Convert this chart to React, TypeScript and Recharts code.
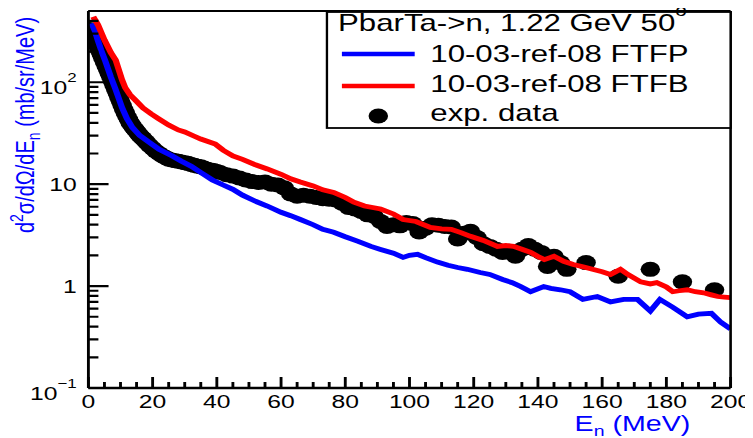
import React from 'react';
import { ComposedChart, Line, Scatter, XAxis, YAxis } from 'recharts';

// the reference picture is stretched sideways, so the chart is drawn narrow and scaled in x
const STRETCH = 1.3;
const W = 579;
const H = 438;
const PL = 68;
const PR = 562;
const PT = 11;
const PB = 388;
const FONT = 'Liberation Sans, Arial, Helvetica, sans-serif';
const X_DOMAIN = [0, 200];
const Y_DOMAIN = [0.1, 500];

// 10-03-ref-08 FTFP (blue)
const ftfpE = [1, 2, 3, 4, 5.3, 7, 8.4, 10.5, 12, 13.7, 16, 18.7, 22, 26, 29, 32, 35, 38.6, 42, 45, 48, 52, 55.7, 60, 63, 66, 70, 73, 76.4, 80, 84, 88, 91, 95, 98, 100, 102.5, 105, 108.7, 112, 115, 118, 122, 125, 129, 132, 134.6, 137.7, 141.8, 144, 147, 150, 154, 158.5, 162.6, 166.7, 171, 175, 178, 182, 186.5, 190, 194, 197, 200];
const ftfpV = [380, 320, 255, 205, 160, 112, 86, 56, 44, 36, 30, 26, 22, 19, 16.8, 15, 13, 11, 9.8, 8.9, 7.8, 6.8, 6.1, 5.3, 4.9, 4.5, 4.0, 3.6, 3.37, 3.05, 2.75, 2.45, 2.29, 2.1, 1.91, 2.0, 2.05, 1.9, 1.72, 1.6, 1.52, 1.46, 1.36, 1.3, 1.16, 1.08, 0.99, 0.88, 0.99, 0.95, 0.92, 0.88, 0.74, 0.79, 0.7, 0.74, 0.74, 0.57, 0.74, 0.62, 0.5, 0.53, 0.54, 0.44, 0.38];

// 10-03-ref-08 FTFB (red)
const ftfbE = [1.5, 3, 5, 7, 8.5, 10.5, 11.5, 13, 14.6, 17, 19.5, 21.8, 25, 28, 30, 33, 35, 39.5, 42, 45, 48, 52, 55.7, 60, 63, 66, 70, 73, 76.4, 80, 82.7, 86, 91, 95, 98, 102, 106.5, 110, 113, 116, 119, 123, 127.4, 130, 132.4, 135, 137.7, 140, 142, 145, 148, 151, 154, 157, 160, 162.6, 165.7, 168, 172, 175, 177, 180, 182, 184, 186.5, 189, 191.6, 194, 196, 198, 200];
const ftfbV = [440, 365, 260, 195, 165, 105, 88, 75, 67, 56, 49, 44, 38, 34, 32.5, 29.5, 27.7, 24.8, 21.5, 18.9, 17.5, 15.5, 14.1, 12.5, 11.3, 10.5, 9.6, 8.8, 8.3, 7.4, 6.65, 6.1, 5.7, 5.1, 4.5, 4.3, 3.77, 3.65, 3.6, 3.35, 3.08, 2.8, 2.45, 2.5, 2.45, 2.3, 2.14, 1.95, 1.82, 1.96, 1.75, 1.63, 1.55, 1.46, 1.38, 1.3, 1.46, 1.3, 1.1, 1.05, 1.08, 0.98, 0.88, 0.9, 0.92, 0.88, 0.86, 0.82, 0.79, 0.78, 0.77];

// exp. data
const expE = [0.5, 1, 1.5, 2, 2.5, 3, 3.5, 4, 4.5, 5, 5.5, 6, 6.5, 7, 7.5, 8, 8.5, 9, 9.5, 10, 10.5, 11, 11.5, 12, 12.5, 13, 13.5, 14, 14.5, 15, 15.5, 16, 16.5, 17, 18, 19, 20, 21, 22, 23, 24, 25, 26, 27, 28, 29, 30, 31, 32, 33, 34, 35, 36, 37, 38, 39, 40, 41, 43, 45, 47, 49, 51, 53, 55, 57, 59, 61, 63, 65, 67, 69, 71, 73, 75, 77, 79, 81, 83, 85, 87, 89, 91, 93, 95, 97, 99, 101, 103, 105, 107, 109, 111, 113, 115, 117, 119, 121, 123, 125, 127, 129, 131, 133, 135, 137, 139, 141, 143, 145, 147, 149, 155, 165, 175, 185, 195];
const expV = [330, 310, 285, 265, 245, 225, 205, 188, 172, 158, 145, 133, 122, 112, 102, 93, 85, 78, 71, 65, 59, 54, 50, 46, 43, 40, 38, 36, 34.5, 33, 31.5, 30, 29, 28, 26, 24, 22.5, 21, 20, 19, 18.3, 17.6, 17.3, 17, 16.8, 16.5, 16.2, 16, 15.6, 15.3, 15, 14.8, 14.4, 14, 13.8, 13.6, 13.3, 13, 12.4, 12, 11.5, 11, 10.6, 10.4, 10.5, 10, 9.8, 9.2, 8.0, 7.6, 7.8, 7.6, 7.4, 7.2, 7.1, 7.0, 6.5, 5.9, 5.7, 5.4, 5.0, 4.85, 4.3, 3.85, 4.0, 3.9, 4.2, 4.1, 3.4, 3.7, 4.0, 3.95, 3.85, 3.8, 2.9, 3.3, 3.45, 3.0, 2.6, 2.45, 2.3, 2.14, 2.2, 1.96, 2.3, 2.5, 2.3, 2.14, 1.56, 1.96, 1.7, 1.46, 1.7, 1.25, 1.46, 1.1, 0.92];

const xTicks = Array.from({ length: 41 }, (_, i) => i * 5);
const yLabels = [
  { v: 0.1, base: '10', exp: '\u22121' },
  { v: 1, base: '1', exp: '' },
  { v: 10, base: '10', exp: '' },
  { v: 100, base: '10', exp: '2' },
];
const yTicks: number[] = [];
[0.1, 1, 10, 100].forEach((d) => {
  for (let k = 1; k <= 9; k++) {
    const t = +(d * k).toPrecision(3);
    if (t <= 500) yTicks.push(t);
  }
});

const ftfp = ftfpE.map((e, i) => ({ e, v: ftfpV[i] }));
const ftfb = ftfbE.map((e, i) => ({ e, v: ftfbV[i] }));
const exp = expE.map((e, i) => ({ e, v: expV[i] }));

// pixel position of a tick inside the plot frame (for the inward ROOT-style tick marks)
const lg = Math.log10;
const tickX = (e: number) => PL + ((e - X_DOMAIN[0]) / (X_DOMAIN[1] - X_DOMAIN[0])) * (PR - PL);
const tickY = (v: number) => PB - ((lg(v) - lg(Y_DOMAIN[0])) / (lg(Y_DOMAIN[1]) - lg(Y_DOMAIN[0]))) * (PB - PT);
const isYMajor = (v: number) => yLabels.some((l) => Math.abs(l.v - v) < 1e-9);

const tickPath =
  xTicks.map((t) => `M${tickX(t)},${PB}V${PB - (t % 20 === 0 ? 11 : 6)}`).join('') +
  yTicks.map((t) => `M${PL},${tickY(t)}H${PL + (isYMajor(t) ? 15.5 : 7.7)}`).join('');

const XTick = (props: any) => {
  const { x, payload } = props;
  const v = payload.value;
  if (v % 20 !== 0) return <g />;
  return (
    <text x={x} y={PB + 20} textAnchor="middle" fontSize={19} fontFamily={FONT} fill="#000">
      {v}
    </text>
  );
};

const YTick = (props: any) => {
  const { y, payload } = props;
  const lab = yLabels.find((l) => Math.abs(l.v - payload.value) < 1e-9);
  if (!lab) return <g />;
  return (
    <text x={PL - 9} y={y + (lab.exp ? 12 : 7)} textAnchor="end" fontSize={19} fontFamily={FONT} fill="#000">
      {lab.base}
      {lab.exp && (
        <tspan dy={-12} fontSize={13}>
          {lab.exp}
        </tspan>
      )}
    </text>
  );
};

const Dot = (props: any) => <circle cx={props.cx} cy={props.cy} r={7.5} fill="#000" />;

export default function App() {
  return (
    <div style={{ marginLeft: -8, marginTop: -8, width: 753, height: 438, overflow: 'hidden', background: '#fff' }}>
      <div style={{ position: 'relative', width: W, height: H, transform: `scaleX(${STRETCH})`, transformOrigin: '0 0' }}>
        {/* exp. data underneath the model curves */}
        <ComposedChart width={W} height={H} margin={{ top: PT, right: W - PR, bottom: H - PB, left: PL }}>
          <XAxis type="number" dataKey="e" domain={X_DOMAIN} hide allowDataOverflow />
          <YAxis type="number" dataKey="v" scale="log" domain={Y_DOMAIN} hide allowDataOverflow />
          <Scatter data={exp} dataKey="v" fill="#000" shape={<Dot />} isAnimationActive={false} />
        </ComposedChart>
        <div style={{ position: 'absolute', left: 0, top: 0 }}>
          <ComposedChart width={W} height={H} margin={{ top: PT, right: W - PR, bottom: 20, left: 18 }}>
            <XAxis
              type="number"
              dataKey="e"
              domain={X_DOMAIN}
              ticks={xTicks}
              interval={0}
              tick={<XTick />}
              tickLine={false}
              axisLine={{ stroke: '#000', strokeWidth: 2.6 }}
              height={30}
              allowDataOverflow
            />
            <YAxis
              type="number"
              dataKey="v"
              scale="log"
              domain={Y_DOMAIN}
              ticks={yTicks}
              interval={0}
              tick={<YTick />}
              tickLine={false}
              axisLine={{ stroke: '#000', strokeWidth: 2.2 }}
              width={50}
              allowDataOverflow
            />
            <Line data={ftfp} dataKey="v" type="linear" stroke="#0000ff" strokeWidth={4.8} dot={false} isAnimationActive={false} />
            <Line data={ftfb} dataKey="v" type="linear" stroke="#ff0000" strokeWidth={4.8} dot={false} isAnimationActive={false} />
          </ComposedChart>
        </div>
        <svg width={W} height={H} style={{ position: 'absolute', left: 0, top: 0, pointerEvents: 'none' }} fontFamily={FONT}>
          <line x1={PL} x2={PR} y1={PT} y2={PT} stroke="#000" strokeWidth={2.2} />
          <line x1={PR} x2={PR} y1={PT} y2={PB} stroke="#000" strokeWidth={2} />
          <path d={tickPath} fill="none" stroke="#000" strokeWidth={2.2} />
          <rect x={251.5} y={12} width={PR - 251.5} height={116} fill="#fff" stroke="#000" strokeWidth={1.8} />
          <text x={260} y={31} fontSize={24} fill="#000">
            PbarTa-&gt;n, 1.22 GeV 50
            <tspan dy={-15} fontSize={16}>o</tspan>
          </text>
          <line x1={263} x2={319} y1={54} y2={54} stroke="#0000ff" strokeWidth={4.5} />
          <text x={331} y={62} fontSize={24} fill="#000">10-03-ref-08 FTFP</text>
          <line x1={263} x2={319} y1={86} y2={86} stroke="#ff0000" strokeWidth={4.5} />
          <text x={331} y={92.5} fontSize={24} fill="#000">10-03-ref-08 FTFB</text>
          <circle cx={291} cy={116} r={7.5} fill="#000" />
          <text x={331} y={121} fontSize={24} fill="#000">exp. data</text>
          <text transform="translate(26,125) rotate(-90)" textAnchor="middle" fontSize={20} fill="#0000ff">
            d<tspan dy={-8} fontSize={14}>2</tspan>
            <tspan dy={8}>σ/dΩ/dE</tspan>
            <tspan dy={5} fontSize={14}>n</tspan>
            <tspan dy={-5}> (mb/sr/MeV)</tspan>
          </text>
          <text x={442} y={431} fontSize={22} fill="#0000ff">
            E<tspan dy={5} fontSize={15}>n</tspan>
            <tspan dy={-5}> (MeV)</tspan>
          </text>
        </svg>
      </div>
    </div>
  );
}
